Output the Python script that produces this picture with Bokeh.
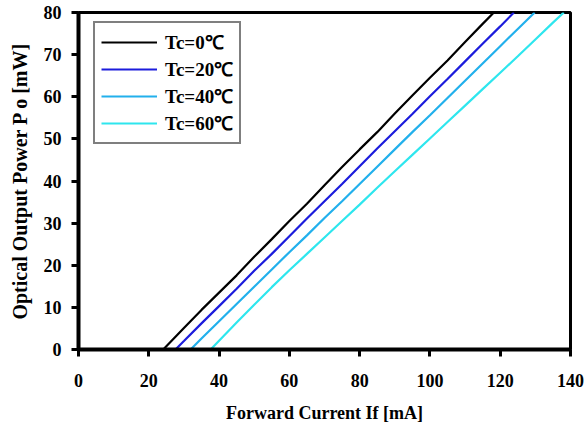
from bokeh.plotting import figure
from bokeh.models import Range1d, Legend, LegendItem, FixedTicker
from bokeh.embed import file_html
from bokeh.resources import INLINE

# ---- data ----
x_ticks = [0, 20, 40, 60, 80, 100, 120, 140]
y_ticks = [0, 10, 20, 30, 40, 50, 60, 70, 80]

labels = ["Tc=0\u2103", "Tc=20\u2103", "Tc=40\u2103", "Tc=60\u2103"]
colors = ["#000000", "#1c1cdc", "#22b0ec", "#2ee6ee"]

x_0 = [0, 24.1, 30, 35, 40, 45, 50, 55, 60, 65, 70, 75, 80, 85, 90, 95, 100, 105, 110, 115, 118.2]
y_0 = [0, 0, 5.1, 9.4, 13.5, 17.6, 22.0, 26.2, 30.5, 34.6, 39.0, 43.3, 47.5, 51.6, 56.0, 60.3, 64.5, 68.6, 73.0, 77.3, 80]

x_20 = [0, 27.6, 30, 35, 40, 45, 50, 55, 60, 65, 70, 75, 80, 85, 90, 95, 100, 105, 110, 115, 120, 123.9]
y_20 = [0, 0, 2.0, 6.2, 10.3, 14.4, 18.7, 22.7, 26.9, 31.1, 35.2, 39.3, 43.5, 47.7, 51.8, 55.9, 60.1, 64.2, 68.4, 72.6, 76.7, 80]

x_40 = [0, 31.9, 35, 40, 45, 50, 55, 60, 65, 70, 75, 80, 85, 90, 95, 100, 105, 110, 115, 120, 125, 129.8]
y_40 = [0, 0, 2.6, 6.7, 10.8, 14.9, 19.0, 23.1, 27.1, 31.2, 35.2, 39.3, 43.4, 47.5, 51.6, 55.6, 59.7, 63.8, 67.9, 72.0, 76.1, 80]

x_60 = [0, 37.6, 40, 45, 50, 55, 60, 65, 70, 75, 80, 85, 90, 95, 100, 105, 110, 115, 120, 125, 130, 135, 138.1]
y_60 = [0, 0, 2.1, 6.4, 10.6, 14.8, 18.8, 22.7, 26.6, 30.5, 34.4, 38.4, 42.3, 46.2, 50.1, 54.0, 57.9, 61.8, 65.7, 69.6, 73.6, 77.6, 80]

series = [(x_0, y_0), (x_20, y_20), (x_40, y_40), (x_60, y_60)]

FONT = "Liberation Serif"

p = figure(width=587, height=430, output_backend="svg", toolbar_location=None,
           x_range=Range1d(0, 140), y_range=Range1d(0, 80),
           min_border_left=78, min_border_right=17, min_border_top=12, min_border_bottom=81)
p.grid.visible = False
p.outline_line_color = "black"
p.outline_line_width = 3
p.background_fill_color = "white"
p.border_fill_color = "white"

renderers = []
for (xs, ys), c in zip(series, colors):
    r = p.line(xs, ys, line_color=c, line_width=2.2)
    renderers.append(r)

for ax in (p.xaxis[0], p.yaxis[0]):
    ax.axis_line_width = 4
    ax.axis_line_color = "black"
    ax.major_tick_line_width = 3
    ax.major_tick_line_color = "black"
    ax.major_tick_in = 0
    ax.major_tick_out = 7
    ax.minor_tick_line_color = None
    ax.major_label_text_font = FONT
    ax.major_label_text_font_style = "bold"
    ax.major_label_text_font_size = "18px"
    ax.major_label_text_color = "black"
    ax.axis_label_text_font = FONT
    ax.axis_label_text_font_style = "bold"
    ax.axis_label_text_color = "black"

p.xaxis.ticker = FixedTicker(ticks=x_ticks)
p.yaxis.ticker = FixedTicker(ticks=y_ticks)
p.xaxis.axis_label = "Forward Current If [mA]"
p.yaxis.axis_label = "Optical Output Power P o [mW]"
p.xaxis.axis_label_text_font_size = "18px"
p.yaxis.axis_label_text_font_size = "20px"
p.xaxis.major_label_standoff = 17
p.yaxis.major_label_standoff = 10
p.xaxis.axis_label_standoff = 13
p.yaxis.axis_label_standoff = 10

legend = Legend(items=[LegendItem(label=l, renderers=[r]) for l, r in zip(labels, renderers)],
                location=(15, 205), margin=0, padding=6, spacing=1,
                glyph_width=56, glyph_height=20, label_height=20, label_standoff=8,
                border_line_color="black", border_line_width=2,
                label_text_font=FONT, label_text_font_style="bold",
                label_text_font_size="19px", label_text_color="black",
                background_fill_color="white", background_fill_alpha=1)
p.add_layout(legend)

open("out.html", "w").write(file_html(p, INLINE))
